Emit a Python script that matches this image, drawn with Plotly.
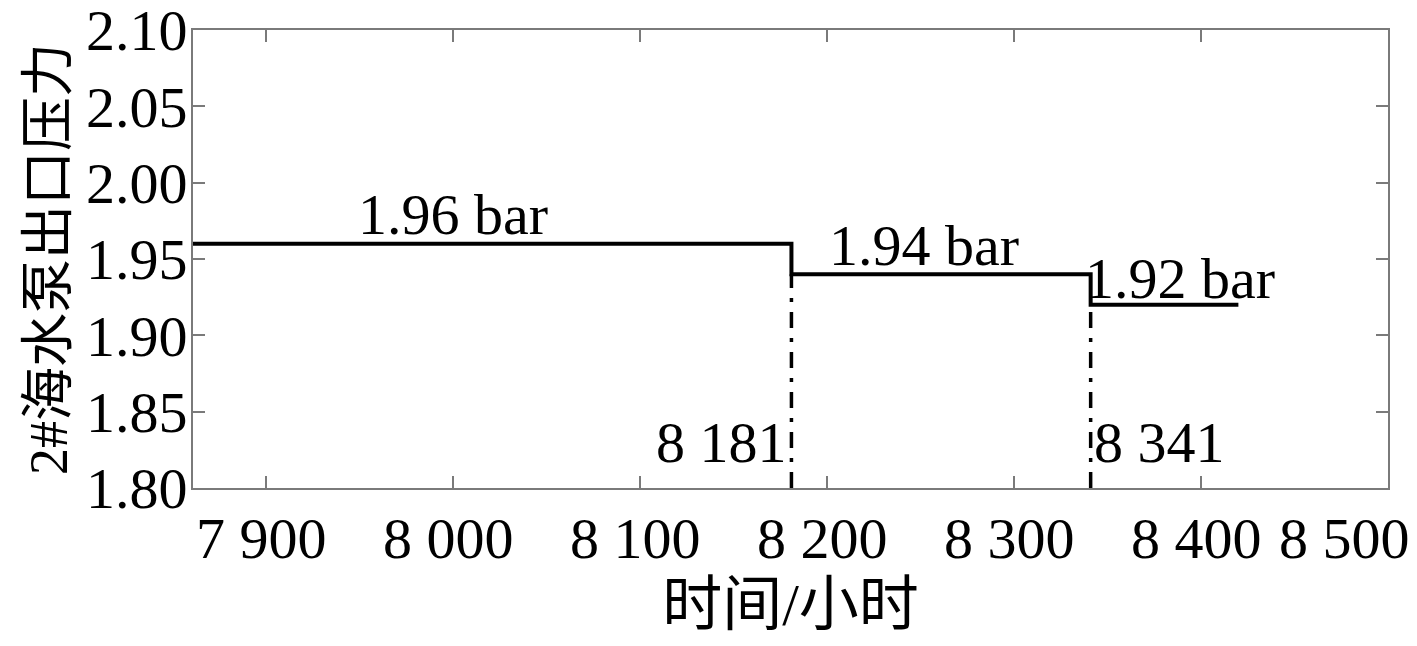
import plotly.graph_objects as go

# step data: pressure levels over time (hours)
step_x = [7861, 8181, 8341, 8420]
step_y = [1.96, 1.94, 1.92, 1.92]

# change points (dash-dot markers) and pressure right after the change
change_x = [8181, 8341]
change_y = [1.94, 1.92]
change_labels = ['8 181', '8 341']

level_labels = ['1.96 bar', '1.94 bar', '1.92 bar']
level_x = [8000, 8252, 8389]
level_y = [1.979, 1.959, 1.937]

x_ticks = [7900, 8000, 8100, 8200, 8300, 8400, 8500]
x_ticktext = ['7 900', '8 000', '8 100', '8 200', '8 300', '8 400', '8 500']
y_ticks = [1.80, 1.85, 1.90, 1.95, 2.00, 2.05, 2.10]

FONT = 'Liberation Serif, Times New Roman, Noto Sans CJK SC'
AXIS_COLOR = '#7a7a7a'
FS = 58

fig = go.Figure()

fig.add_trace(go.Scatter(x=step_x, y=step_y, mode='lines', line_shape='hv',
                         line=dict(color='black', width=4), showlegend=False))

for cx, cy in zip(change_x, change_y):
    fig.add_trace(go.Scatter(x=[cx, cx], y=[1.80, cy], mode='lines',
                             line=dict(color='black', width=3.5, dash='16px,10px,4px,10px'),
                             showlegend=False))

for txt, lx, ly in zip(level_labels, level_x, level_y):
    fig.add_annotation(x=lx, y=ly, text=txt, showarrow=False,
                       font=dict(family=FONT, size=FS, color='black'))

fig.add_annotation(x=change_x[0], y=1.8295, text=change_labels[0], showarrow=False,
                   xanchor='right', xshift=-2, font=dict(family=FONT, size=FS, color='black'))
fig.add_annotation(x=change_x[1], y=1.8295, text=change_labels[1], showarrow=False,
                   xanchor='left', xshift=1, font=dict(family=FONT, size=FS, color='black'))

# x tick labels as annotations so the last one stays inside the page
for i, (tv, tt) in enumerate(zip(x_ticks, x_ticktext)):
    fig.add_annotation(x=tv, y=0, yref='paper', text=tt, showarrow=False,
                       yanchor='top', yshift=-16,
                       xshift=-44 if i == len(x_ticks) - 1 else -4,
                       font=dict(family=FONT, size=FS, color='black'))

fig.update_xaxes(range=[7861, 8500], tickvals=x_ticks, showticklabels=False,
                 ticks='inside', ticklen=12, tickwidth=2, tickcolor=AXIS_COLOR,
                 showline=True, linecolor=AXIS_COLOR, linewidth=2, mirror='ticks',
                 showgrid=False, zeroline=False, automargin=False,
                 title=dict(text='时间/小时', standoff=98,
                            font=dict(family=FONT, size=60, color='black')))

fig.update_yaxes(range=[1.80, 2.10], tickvals=y_ticks, tickformat='.2f',
                 ticks='inside', ticklen=12, tickwidth=2, tickcolor=AXIS_COLOR,
                 showline=True, linecolor=AXIS_COLOR, linewidth=2, mirror='ticks',
                 showgrid=False, zeroline=False, ticklabelstandoff=-8, automargin=False,
                 ticklabeloverflow='allow',
                 tickfont=dict(family=FONT, size=FS, color='black'),
                 title=dict(text='2#海水泵出口压力', standoff=1,
                            font=dict(family=FONT, size=54, color='black')))

fig.update_layout(width=1401, height=630, plot_bgcolor='white', paper_bgcolor='white',
                  margin=dict(l=185, r=21, t=22, b=150, autoexpand=False), showlegend=False)

fig.write_html("out.html")
